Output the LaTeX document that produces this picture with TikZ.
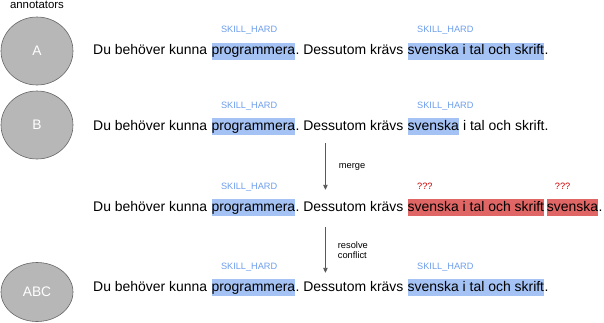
\documentclass[tikz,border=0pt]{standalone}
\usepackage{fontspec}
\setmainfont{Liberation Sans}
\usepackage{xcolor}
\usepackage{tikz}
\usetikzlibrary{arrows.meta,positioning,shapes.geometric}
\definecolor{hlBlue}{RGB}{164,194,244}
\definecolor{hlRed}{RGB}{224,102,102}
\definecolor{tagBlue}{RGB}{109,158,235}
\definecolor{tagRed}{RGB}{204,0,0}
\definecolor{annFill}{RGB}{183,183,183}
\definecolor{annLine}{RGB}{102,102,102}
\definecolor{flowGray}{RGB}{89,89,89}
\tikzset{
sent/.style={inner sep=0pt,text height=12pt,text depth=5.2pt,font=\fontsize{13.95}{16}\selectfont},
hlblue/.style={sent,fill=hlBlue},
hlred/.style={sent,fill=hlRed},
tag/.style={inner sep=0pt,anchor=base west,text=tagBlue,font=\fontsize{9.2}{10}\selectfont},
qtag/.style={tag,text=tagRed},
annot/.style={ellipse,draw=annLine,line width=0.6pt,fill=annFill,minimum width=72pt,minimum height=68pt,inner sep=0pt,text=white,font=\fontsize{13.8}{16}\selectfont},
flowlbl/.style={inner sep=0pt,anchor=west,align=left,font=\fontsize{9.3}{10}\selectfont},
flow/.style={-{Triangle[length=5pt,width=4.5pt]},line width=0.9pt,draw=flowGray}
}
\begin{document}
\begin{tikzpicture}[x=1pt,y=-1pt,node distance=0pt]
\useasboundingbox (0,0) rectangle (604,322);
\node[annot] (annA) at (37,51) {A};
\node[annot] (annB) at (37,125) {B};
\node[annot,minimum height=59pt] (annABC) at (37,292) {ABC};
\node[inner sep=0pt,font=\fontsize{11.4}{12}\selectfont,above=8pt of annA] (annLbl) {annotators};
\node[sent,anchor=base west] (s1a) at (93,54.5) {Du behöver kunna};
\node[hlblue,right=3.9pt of s1a] (s1b) {programmera};
\node[sent,right=of s1b] (s1c) {.\ Dessutom krävs};
\node[hlblue,right=3.9pt of s1c] (s1d) {svenska i tal och skrift};
\node[sent,right=of s1d] (s1e) {.};
\node[tag] (t1b) at ([xshift=9.5pt,yshift=9.5pt]s1b.north west) {SKILL\_HARD};
\node[tag] (t1d) at ([xshift=9.5pt,yshift=9.5pt]s1d.north west) {SKILL\_HARD};
\node[sent,anchor=base west] (s2a) at (93,130) {Du behöver kunna};
\node[hlblue,right=3.9pt of s2a] (s2b) {programmera};
\node[sent,right=of s2b] (s2c) {.\ Dessutom krävs};
\node[hlblue,right=3.9pt of s2c] (s2d) {svenska};
\node[sent,right=of s2d] (s2e) {\ i tal och skrift.};
\node[tag] (t2b) at ([xshift=9.5pt,yshift=9.5pt]s2b.north west) {SKILL\_HARD};
\node[tag] (t2d) at ([xshift=9.5pt,yshift=9.5pt]s2d.north west) {SKILL\_HARD};
\node[sent,anchor=base west] (s3a) at (93,211) {Du behöver kunna};
\node[hlblue,right=3.9pt of s3a] (s3b) {programmera};
\node[sent,right=of s3b] (s3c) {.\ Dessutom krävs};
\node[hlred,right=3.9pt of s3c] (s3d) {svenska i tal och skrift};
\node[hlred,right=2.4pt of s3d] (s3e) {svenska};
\node[sent,right=of s3e] (s3f) {.};
\node[tag] (t3b) at ([xshift=9.5pt,yshift=9.5pt]s3b.north west) {SKILL\_HARD};
\node[qtag] (t3d) at ([xshift=9.5pt,yshift=9.5pt]s3d.north west) {???};
\node[qtag] (t3e) at ([xshift=8pt,yshift=9.5pt]s3e.north west) {???};
\node[sent,anchor=base west] (s4a) at (93,291) {Du behöver kunna};
\node[hlblue,right=3.9pt of s4a] (s4b) {programmera};
\node[sent,right=of s4b] (s4c) {.\ Dessutom krävs};
\node[hlblue,right=3.9pt of s4c] (s4d) {svenska i tal och skrift};
\node[sent,right=of s4d] (s4e) {.};
\node[tag] (t4b) at ([xshift=9.5pt,yshift=9.5pt]s4b.north west) {SKILL\_HARD};
\node[tag] (t4d) at ([xshift=9.5pt,yshift=9.5pt]s4d.north west) {SKILL\_HARD};
\draw[flow] ([xshift=30pt,yshift=-8pt]s2c.south west) -- node[flowlbl,xshift=13pt] {merge} ([xshift=30pt,yshift=9pt]s3c.north west);
\draw[flow] ([xshift=30pt,yshift=-10.5pt]s3c.south west) -- node[flowlbl,xshift=12pt] {resolve\\conflict} ([xshift=30pt,yshift=6pt]s4c.north west);
\end{tikzpicture}
\end{document}
